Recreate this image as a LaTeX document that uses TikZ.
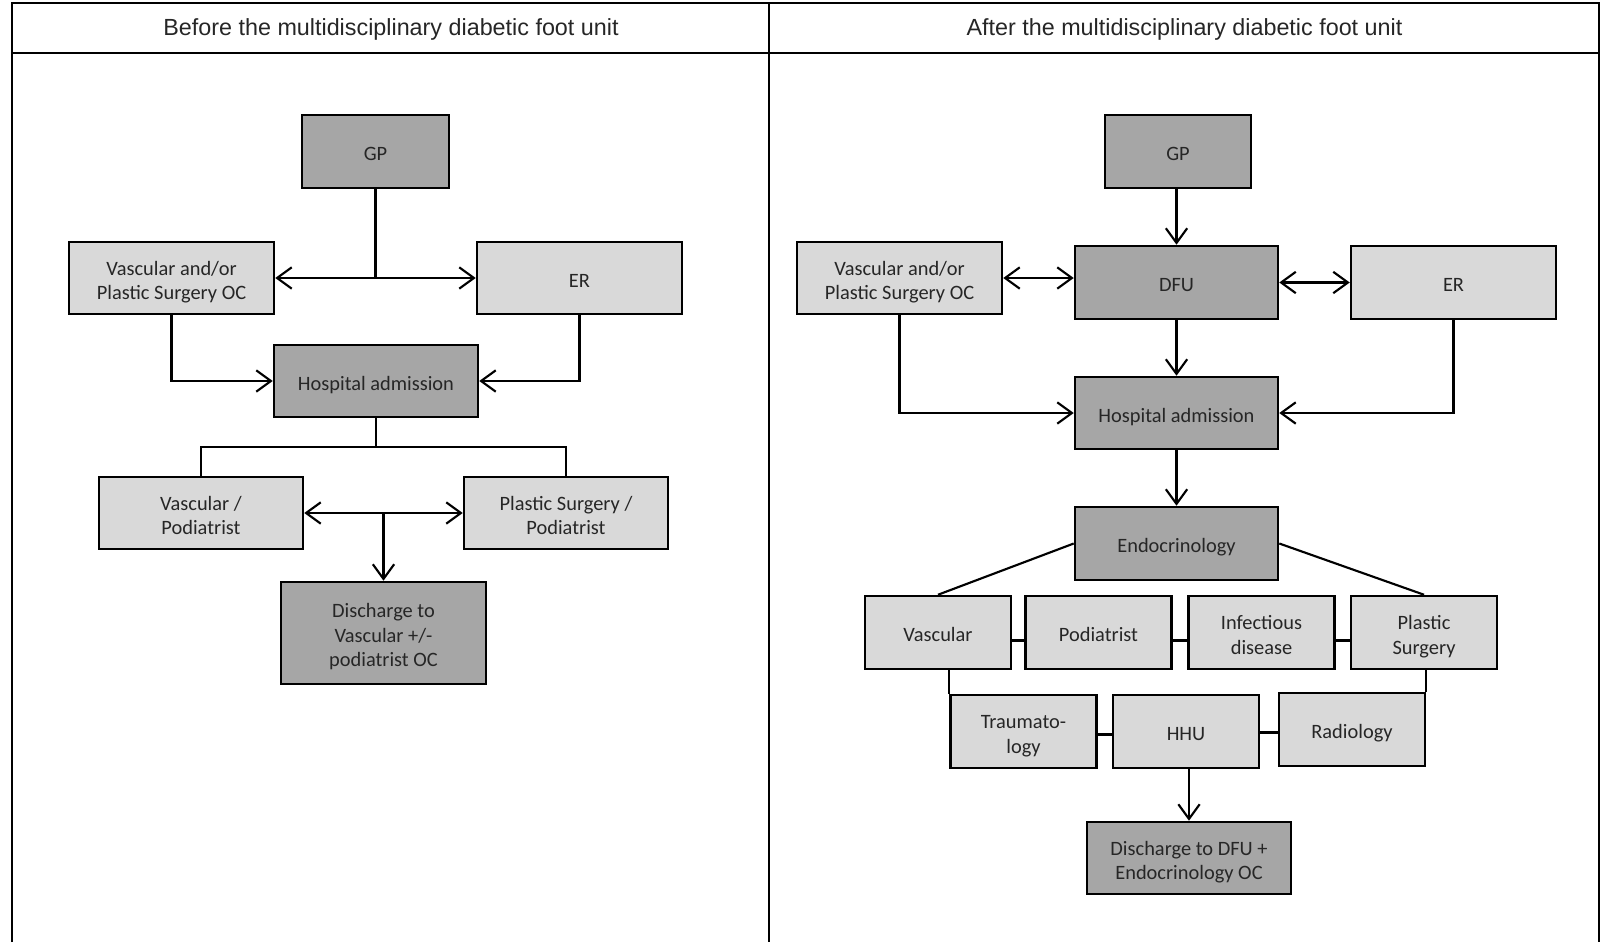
\documentclass[tikz,border=0pt]{standalone}
\usepackage{fontspec}
\setmainfont{Carlito}
\newfontfamily\titlefont{Liberation Sans}
\usetikzlibrary{arrows.meta,calc}
\definecolor{darkfill}{HTML}{A6A6A6}
\definecolor{lightfill}{HTML}{D9D9D9}
\definecolor{txt}{HTML}{262626}
\newcommand\boxtext[1]{\raisebox{-3.4pt}[\height][\depth]{\begin{tabular}{@{}c@{}}#1\end{tabular}}}
\begin{document}
\begin{tikzpicture}[x=0.75pt,y=-0.75pt,
  frame/.style={line width=1.6pt, black},
  box/.style={draw=black, line width=1.9pt, align=center, inner sep=0pt,
    font=\fontsize{15.3}{18.4}\selectfont, text=txt},
  dark/.style={box, fill=darkfill},
  light/.style={box, fill=lightfill},
  sz/.style 2 args={minimum width=#1*0.75pt, minimum height=#2*0.75pt},
  conn/.style={line width=1.6pt, black},
  arr/.style={conn, -{Straight Barb[length=11pt,width=16pt]}},
  darr/.style={conn, {Straight Barb[length=11pt,width=16pt]}-{Straight Barb[length=11pt,width=16pt]}},
  ttl/.style={font=\titlefont\fontsize{17.5}{20}\selectfont, text=txt, inner sep=0pt}
]
\useasboundingbox (0,0) rectangle (1601,942);
% frame
\coordinate (tl) at (12,3);
\coordinate (tr) at (1599,3);
\coordinate (bl) at (12,942);
\coordinate (br) at (1599,942);
\coordinate (tm) at (769,3);
\coordinate (bm) at (769,942);
\coordinate (hl) at (12,53);
\coordinate (hr) at (1599,53);
\draw[frame] (bl) -- (tl) -- (tr) -- (br);
\draw[frame] (tm) -- (bm);
\draw[frame] (hl) -- (hr);
\node[ttl] (t1) at (391,29.5) {Before the multidisciplinary diabetic foot unit};
\node[ttl] (t2) at (1184.5,29.5) {After the multidisciplinary diabetic foot unit};

% ---------- left panel ----------
\node[dark, sz={147}{73}] (gpL) at (375.5,151.5) {\boxtext{GP}};
\node[light, sz={205}{72}] (vascL) at (171.5,278) {\boxtext{Vascular and/or\\Plastic Surgery OC}};
\node[light, sz={205}{72}] (erL) at (579.5,278) {\boxtext{ER}};
\node[dark, sz={204}{72}] (hospL) at (376,381) {\boxtext{Hospital admission}};
\node[light, sz={204}{72}] (vpL) at (201,513) {\boxtext{Vascular /\\Podiatrist}};
\node[light, sz={204}{72}] (psL) at (566,513) {\boxtext{Plastic Surgery /\\Podiatrist}};
\node[dark, sz={205}{102}] (disL) at (383.5,633) {\boxtext{Discharge to\\Vascular +/-\\podiatrist OC}};

\coordinate (gj) at (gpL.south |- vascL.east);
\draw[conn] (gpL.south) -- (gj);
\draw[darr] (vascL.east) -- (erL.west);
\draw[arr] (vascL.south) |- (hospL.west);
\draw[arr] (erL.south) |- (hospL.east);
\coordinate (bj) at (376,447);
\draw[conn] (hospL.south) -- (bj);
\draw[conn] (vpL.north) |- (bj) -| (psL.north);
\draw[darr] (vpL.east) -- (psL.west);
\draw[arr] (disL.north |- vpL.east) -- (disL.north);

% ---------- right panel ----------
\node[dark, sz={146}{73}] (gpR) at (1178,151.5) {\boxtext{GP}};
\node[dark, sz={203}{73}] (dfu) at (1176.5,282.5) {\boxtext{DFU}};
\node[light, sz={205}{72}] (vascR) at (899.5,278) {\boxtext{Vascular and/or\\Plastic Surgery OC}};
\node[light, sz={205}{73}] (erR) at (1453.5,282.5) {\boxtext{ER}};
\node[dark, sz={203}{72}] (hospR) at (1176.5,413) {\boxtext{Hospital admission}};
\node[dark, sz={203}{73}] (endo) at (1176.5,543.5) {\boxtext{Endocrinology}};
\node[light, sz={146}{73}] (vas) at (938,632.5) {\boxtext{Vascular}};
\node[light, sz={146}{73}] (pod) at (1098.5,632.5) {\boxtext{Podiatrist}};
\node[light, sz={146}{73}] (inf) at (1261.5,632.5) {\boxtext{Infectious\\disease}};
\node[light, sz={146}{73}] (pls) at (1424,632.5) {\boxtext{Plastic\\Surgery}};
\node[light, sz={146}{73}] (tra) at (1023.5,731.5) {\boxtext{Traumato-\\logy}};
\node[light, sz={146}{73}] (hhu) at (1186,731.5) {\boxtext{HHU}};
\node[light, sz={146}{73}] (rad) at (1352,729.5) {\boxtext{Radiology}};
\node[dark, sz={204}{72}] (disR) at (1189,858) {\boxtext{Discharge to DFU +\\Endocrinology OC}};

\draw[arr] (gpR.south -| dfu.north) -- (dfu.north);
\draw[darr] (vascR.east) -- (vascR.east -| dfu.west);
\draw[darr] (dfu.east) -- (erR.west);
\draw[arr] (dfu.south) -- (hospR.north);
\draw[arr] (vascR.south) |- (hospR.west);
\draw[arr] (erR.south) |- (hospR.east);
\draw[arr] (hospR.south) -- (endo.north);
\draw[conn] (endo.west) -- (vas.north);
\draw[conn] (endo.east) -- (pls.north);
\draw[conn] ($(vas.east)+(0,8)$) -- ($(pod.west)+(0,8)$);
\draw[conn] ($(pod.east)+(0,8)$) -- ($(inf.west)+(0,8)$);
\draw[conn] ($(inf.east)+(0,8)$) -- ($(pls.west)+(0,8)$);
\draw[conn] (vas.south -| tra.north west) -- (tra.north west);
\draw[conn] (pls.south -| rad.north east) -- (rad.north east);
\draw[conn] ($(tra.east)+(0,3)$) -- ($(hhu.west)+(0,3)$);
\draw[conn] ($(hhu.east)+(0,1)$) -- ($(rad.west)+(0,3)$);
\draw[arr] (hhu.south -| disR.north) -- (disR.north);
\end{tikzpicture}
\end{document}
